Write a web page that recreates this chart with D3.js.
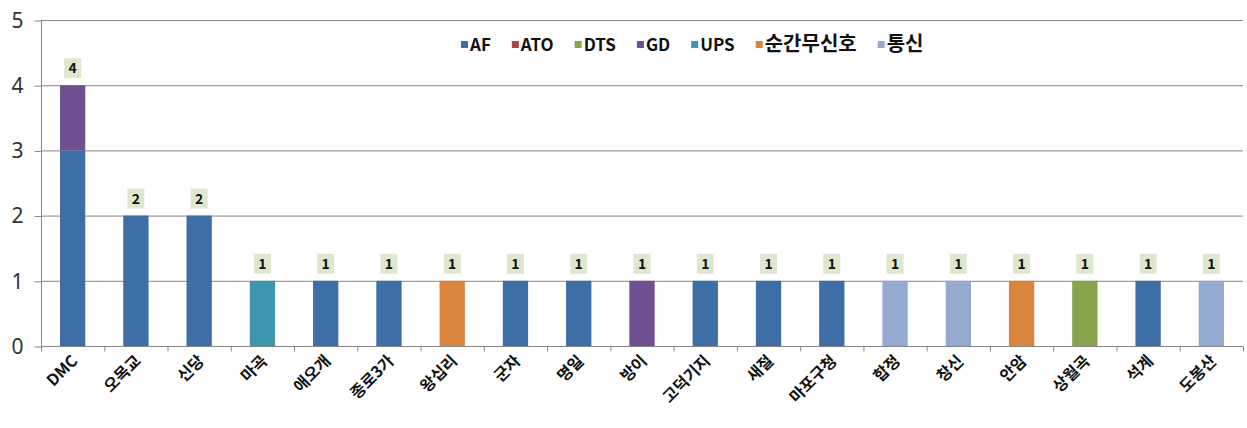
<!DOCTYPE html>
<html>
<head>
<meta charset="utf-8">
<script src="https://cdn.jsdelivr.net/npm/d3@7/dist/d3.min.js"></script>
<style>
  body { margin: 0; background: #fff; }
  svg { display: block; }
  .ytick text { font-family: "Noto Sans", sans-serif; font-size: 21px; fill: #333; }
  .xlab { font-family: "Noto Sans CJK KR", sans-serif; font-weight: bold; font-size: 16px; fill: #111; }
  .lbl { font-family: "Noto Sans CJK KR", sans-serif; font-weight: bold; font-size: 14px; fill: #111; }
  .leg { font-family: "Noto Sans CJK KR", sans-serif; font-weight: bold; fill: #111; }
</style>
</head>
<body>
<svg id="chart" width="1247" height="428"></svg>
<script>
// stations (x categories)
var stations = ["DMC","오목교","신당","마곡","애오개","종로3가","왕십리","군자","명일","방이",
                "고덕기지","새절","마포구청","합정","창신","안암","상월곡","석계","도봉산"];
var seriesNames = ["AF","ATO","DTS","GD","UPS","순간무신호","통신"];
var seriesColors = ["#3e6ea6","#aa4643","#86a44a","#6f5192","#3d96ae","#db843d","#93a9cf"];

// counts per series, one per station
var AF      = [3,2,2,0,1,1,0,1,1,0,1,1,1,0,0,0,0,1,0];
var ATO     = [0,0,0,0,0,0,0,0,0,0,0,0,0,0,0,0,0,0,0];
var DTS     = [0,0,0,0,0,0,0,0,0,0,0,0,0,0,0,0,1,0,0];
var GD      = [1,0,0,0,0,0,0,0,0,1,0,0,0,0,0,0,0,0,0];
var UPS     = [0,0,0,1,0,0,0,0,0,0,0,0,0,0,0,0,0,0,0];
var sunggan = [0,0,0,0,0,0,1,0,0,0,0,0,0,0,0,1,0,0,0];
var tongsin = [0,0,0,0,0,0,0,0,0,0,0,0,0,1,1,0,0,0,1];
var yTicks = [0,1,2,3,4,5];

var seriesVals = [AF, ATO, DTS, GD, UPS, sunggan, tongsin];
var rows = stations.map(function(s, i) {
  var r = {station: s};
  seriesNames.forEach(function(n, k) { r[n] = seriesVals[k][i]; });
  return r;
});

var svg = d3.select("#chart");
var pLeft = 41, pRight = 1243, pTop = 20, pBottom = 346;

var x = d3.scaleBand().domain(stations).range([pLeft, pRight]).paddingInner(0.6).paddingOuter(0.3);
var xb = d3.scaleBand().domain(stations).range([pLeft, pRight]);
var y = d3.scaleLinear().domain([0, 5]).range([pBottom, pTop]);
var color = d3.scaleOrdinal(seriesNames, seriesColors);

// grid lines
svg.append("g").selectAll("line").data(yTicks.filter(function(t){ return t > 0; }))
  .join("line")
  .attr("x1", pLeft).attr("x2", pRight)
  .attr("y1", function(d){ return y(d) + 0.5; }).attr("y2", function(d){ return y(d) + 0.5; })
  .attr("stroke", "#868686").attr("stroke-width", 1);

// y axis
var yAxis = svg.append("g").attr("class", "ytick")
  .attr("transform", "translate(" + (pLeft + 0.5) + ",0.5)")
  .call(d3.axisLeft(y).tickValues(yTicks).tickSize(7).tickPadding(11).tickFormat(d3.format("d")));
yAxis.selectAll("line, path").attr("stroke", "#868686");
yAxis.select(".domain").attr("d", "M0," + pTop + "V" + pBottom);

// stacked bars
var stack = d3.stack().keys(seriesNames)(rows);
svg.append("g").selectAll("g").data(stack).join("g")
  .attr("fill", function(d){ return color(d.key); })
  .selectAll("rect").data(function(d){ return d; }).join("rect")
  .attr("x", function(d){ return x(d.data.station); })
  .attr("width", x.bandwidth())
  .attr("y", function(d){ return y(d[1]); })
  .attr("height", function(d){ return y(d[0]) - y(d[1]); });

// x axis
var xAxis = svg.append("g").attr("transform", "translate(0," + (pBottom + 0.5) + ")");
xAxis.append("line").attr("x1", pLeft).attr("x2", pRight).attr("stroke", "#868686");
xAxis.selectAll(".tk").data(stations).join("line").attr("class", "tk")
  .attr("x1", function(d){ return xb(d) + xb.bandwidth() + 0.5; })
  .attr("x2", function(d){ return xb(d) + xb.bandwidth() + 0.5; })
  .attr("y1", 0).attr("y2", 5).attr("stroke", "#868686");
xAxis.append("line").attr("x1", pLeft + 0.5).attr("x2", pLeft + 0.5).attr("y1", 0).attr("y2", 5).attr("stroke", "#868686");

svg.append("g").selectAll("text").data(stations).join("text")
  .attr("class", "xlab")
  .attr("text-anchor", "end")
  .attr("transform", function(d){
    return "translate(" + (x(d) + x.bandwidth() / 2 + 6) + "," + (pBottom + 16) + ") rotate(-45)";
  })
  .text(function(d){ return d; });

// totals labels
var totals = rows.map(function(r){ return d3.sum(seriesNames, function(n){ return r[n]; }); });
var lab = svg.append("g").selectAll("g").data(rows).join("g")
  .attr("transform", function(d, i){
    return "translate(" + (x(d.station) + x.bandwidth() / 2) + "," + (y(totals[i]) - 5) + ")";
  });
lab.append("rect").attr("x", -8.5).attr("y", -22).attr("width", 17).attr("height", 20).attr("fill", "#dfe8cf");
lab.append("text").attr("class", "lbl").attr("text-anchor", "middle").attr("y", -7)
  .text(function(d, i){ return totals[i]; });

// legend
var leg = svg.append("g");
var lx = 461, ly = 45;
seriesNames.forEach(function(n, k) {
  var latin = /^[A-Z]+$/.test(n);
  leg.append("rect").attr("x", lx).attr("y", ly - 4).attr("width", 7).attr("height", 7).attr("fill", color(n));
  var t = leg.append("text").attr("class", "leg").attr("x", lx + 9).attr("y", ly + 6)
    .style("font-size", latin ? "17px" : "20px").text(n);
  lx += 9 + t.node().getComputedTextLength() + 21;
});
</script>
</body>
</html>
